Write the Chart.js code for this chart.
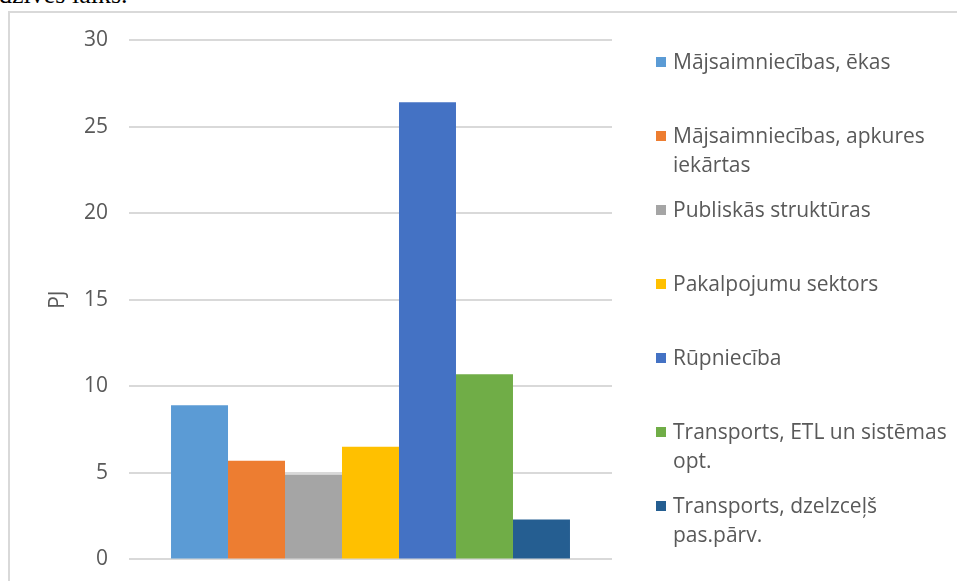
<!DOCTYPE html>
<html>
<head>
<meta charset="utf-8">
<script src="https://cdn.jsdelivr.net/npm/chart.js@4"></script>
<style>
  body { margin: 0; background: #fff; width: 957px; height: 581px; overflow: hidden; position: relative; font-family: "Open Sans", sans-serif; }
  #topText { position: absolute; left: -1px; top: -18px; font-family: "Liberation Serif", serif; font-size: 26px; line-height: 26px; color: #000; white-space: nowrap; }
  #frame { position: absolute; left: 8px; top: 11px; width: 1000px; height: 620px; border: 2px solid #d9d9d9; box-sizing: border-box; }
  #wrap { position: absolute; left: 0; top: 0; width: 957px; height: 593px; }
  #legend { position: absolute; left: 656px; top: 0; }
  .item { position: absolute; left: 0; width: 300px; color: #595959; font-size: 21px; line-height: 29px; }
  .box { position: absolute; left: 0; top: 10px; width: 10px; height: 10px; }
  .txt { position: absolute; left: 17px; top: 0; width: 282px; }
</style>
</head>
<body>
<div id="topText">dzīves laiks.</div>
<div id="frame"></div>
<div id="wrap"><canvas id="Chart_main"></canvas></div>
<div id="legend"></div>
<script>
// data
var categories = [""];
var seriesNames = ["Mājsaimniecības, ēkas", "Mājsaimniecības, apkures iekārtas", "Publiskās struktūras",
                   "Pakalpojumu sektors", "Rūpniecība", "Transports, ETL un sistēmas opt.", "Transports, dzelzceļš pas.pārv."];
var seriesValues = [8.9, 5.7, 4.9, 6.5, 26.4, 10.7, 2.3];
var yTicks = [0, 5, 10, 15, 20, 25, 30];
var barColors = ["#5B9BD5", "#ED7D31", "#A5A5A5", "#FFC000", "#4472C4", "#70AD47", "#255E91"];

var DSets = [];
for (var i = 0; i < seriesNames.length; i++) {
    DSets.push({ label: seriesNames[i], data: [seriesValues[i]], backgroundColor: barColors[i], borderWidth: 0 });
}

var ctx = document.getElementById('Chart_main');
var chart = new Chart(ctx, {
    type: 'bar',
    data: { labels: categories, datasets: DSets },
    options: {
        responsive: true,
        maintainAspectRatio: false,
        animation: false,
        layout: { padding: { left: 0, top: 40, right: 345, bottom: 11 } },
        plugins: { legend: { display: false }, tooltip: { enabled: false } },
        datasets: { bar: { categoryPercentage: 0.826, barPercentage: 1 } },
        scales: {
            x: { display: false },
            y: {
                min: 0, max: 30,
                afterFit: function (axis) { axis.width = 129; },
                afterBuildTicks: function (axis) { axis.ticks = yTicks.map(function (v) { return { value: v }; }); },
                border: { display: false },
                grid: { color: "#d9d9d9", lineWidth: 2, drawTicks: false },
                ticks: { color: "#595959", padding: 21, font: { family: "Open Sans", size: 21 } },
                title: { display: true, text: "PJ", color: "#595959", font: { family: "Open Sans", size: 21 }, padding: { top: 45, bottom: 0 } }
            }
        }
    }
});

// legend with fixed row spacing like the original
var lg = document.getElementById('legend');
for (var i = 0; i < seriesNames.length; i++) {
    var it = document.createElement('div');
    it.className = 'item';
    it.style.top = (47 + i * 74) + 'px';
    it.innerHTML = '<div class="box" style="background:' + barColors[i] + '"></div><div class="txt">' + seriesNames[i] + '</div>';
    lg.appendChild(it);
}
</script>
</body>
</html>
